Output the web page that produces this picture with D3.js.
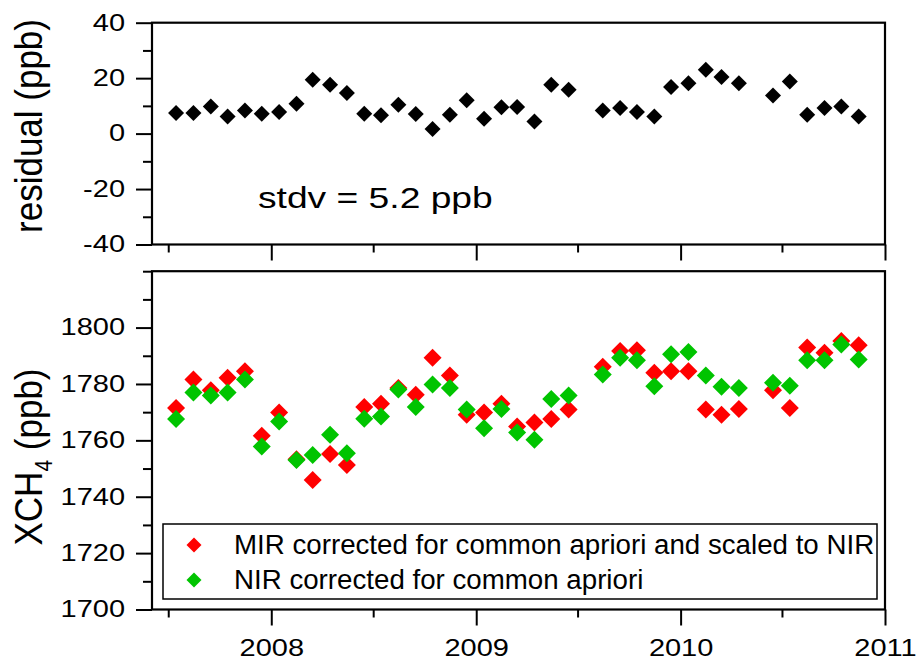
<!DOCTYPE html>
<html>
<head>
<meta charset="utf-8">
<script src="https://cdn.jsdelivr.net/npm/d3@7"></script>
<style>
  body { margin: 0; background: #fff; }
  svg { display: block; font-family: "Liberation Sans", Arial, sans-serif; }
</style>
</head>
<body>
<div id="chart"></div>
<script>
// monthly means, Jul 2007 .. Nov 2010 (null = no data)
const months = [
  '2007-07','2007-08','2007-09','2007-10','2007-11','2007-12',
  '2008-01','2008-02','2008-03','2008-04','2008-05','2008-06',
  '2008-07','2008-08','2008-09','2008-10','2008-11','2008-12',
  '2009-01','2009-02','2009-03','2009-04','2009-05','2009-06',
  '2009-07','2009-08','2009-09','2009-10','2009-11','2009-12',
  '2010-01','2010-02','2010-03','2010-04','2010-05','2010-06',
  '2010-07','2010-08','2010-09','2010-10','2010-11'
];
const residual = [
  7.4, 7.4, 9.8, 6.2, 8.3, 7.2,
  7.8, 10.8, 19.4, 17.6, 14.6, 7.2,
  6.6, 10.4, 7.1, 1.7, 6.8, 12.0,
  5.4, 9.5, 9.6, 4.4, 17.6, 15.8,
  null, 8.3, 9.2, 7.8, 6.2, 16.8,
  18.2, 23.0, 20.4, 18.2, null, 13.7,
  18.8, 6.8, 9.2, 9.8, 6.2
];
const mir = [
  1771.5, 1781.6, 1777.8, 1782.2, 1784.5, 1761.6,
  1769.9, 1753.3, 1745.9, 1755.2, 1751.3, 1771.8,
  1773.0, 1778.6, 1776.2, 1789.3, 1783.0, 1769.1,
  1769.9, 1773.0, 1764.9, 1766.3, 1767.6, 1770.9,
  null, 1786.1, 1791.7, 1792.0, 1784.0, 1784.5,
  1784.5, 1770.9, 1769.1, 1771.1, null, 1777.8,
  1771.5, 1792.9, 1791.1, 1795.2, 1793.7
];
const nir = [
  1767.6, 1777.0, 1775.9, 1777.0, 1781.6, 1757.8,
  1766.7, 1753.0, 1754.8, 1762.0, 1755.4, 1767.7,
  1768.5, 1778.0, 1771.8, 1779.8, 1778.6, 1770.9,
  1764.3, 1771.1, 1762.8, 1760.2, 1774.7, 1775.9,
  null, 1783.4, 1789.3, 1788.4, 1779.2, 1790.5,
  1791.3, 1783.0, 1779.0, 1778.6, null, 1780.4,
  1779.4, 1788.4, 1788.4, 1794.0, 1788.7
];
const yearTicks = ['2008', '2009', '2010', '2011'];
const halfYearTicks = ['2007-07', '2008-07', '2009-07', '2010-07'];
const residualTicks = [-40, -20, 0, 20, 40];
const xchTicks = [1700, 1720, 1740, 1760, 1780, 1800];
const legendLabels = [
  'MIR corrected for common apriori and scaled to NIR',
  'NIR corrected for common apriori'
];
const stdvText = 'stdv = 5.2 ppb';

const red = '#ff0000', green = '#00c400';

const W = 917, H = 661;
const left = 152, right = 885;
const top1 = 22.7, bot1 = 244.5;
const top2 = 271.2, bot2 = 609.5;

const parseMonth = d3.timeParse('%Y-%m-%d');
const toDate = m => parseMonth(m.length === 4 ? m + '-01-01' : m.length === 7 ? m + '-15' : m);

const svg = d3.select('#chart').append('svg')
  .attr('width', W).attr('height', H);

const x = d3.scaleTime()
  .domain([new Date(2007, 5, 2), new Date(2011, 0, 1)])
  .range([left, right]);
const y1 = d3.scaleLinear().domain([-40, 40]).range([bot1, top1]);
const y2 = d3.scaleLinear().domain([1700, 1820]).range([bot2, top2]);

// stretch text horizontally (source fonts are wider than Arial)
function stretch(sel, k) {
  sel.each(function () {
    const w = this.getComputedTextLength();
    d3.select(this).attr('textLength', w * k).attr('lengthAdjust', 'spacingAndGlyphs');
  });
}

function styleAxis(g) {
  g.select('.domain').remove();
  g.selectAll('line').attr('stroke', '#000').attr('stroke-width', 2);
}

function diamond(r) {
  return `M0,${-r}L${r},0L0,${r}L${-r},0Z`;
}

// ---------- y axes ----------
function yAxis(scale, ticks, step) {
  const [lo, hi] = scale.domain();
  const minor = d3.range(lo, hi + 0.001, step).filter(v => !ticks.includes(v));
  svg.append('g').attr('transform', `translate(${left},0)`)
    .call(d3.axisLeft(scale).tickValues(minor).tickSize(9).tickFormat(''))
    .call(styleAxis);
  const g = svg.append('g').attr('transform', `translate(${left},0)`)
    .call(d3.axisLeft(scale).tickValues(ticks).tickSize(16).tickPadding(11)
      .tickFormat(d => String(d)))
    .call(styleAxis);
  g.selectAll('text').attr('font-size', 23).attr('fill', '#000')
    .attr('font-family', '"Liberation Sans", Arial, sans-serif')
    .call(stretch, 1.26);
}
yAxis(y1, residualTicks, 10);
yAxis(y2, xchTicks, 10);

// ---------- x axes ----------
function xAxis(yPos, labels) {
  svg.append('g').attr('transform', `translate(0,${yPos})`)
    .call(d3.axisBottom(x).tickValues(halfYearTicks.map(m => parseMonth(m + '-01'))).tickSize(8).tickFormat(''))
    .call(styleAxis);
  const g = svg.append('g').attr('transform', `translate(0,${yPos})`)
    .call(d3.axisBottom(x).tickValues(yearTicks.map(toDate)).tickSize(16).tickPadding(14)
      .tickFormat(labels ? d3.timeFormat('%Y') : ''))
    .call(styleAxis);
  g.selectAll('text').attr('font-size', 23).attr('fill', '#000')
    .attr('font-family', '"Liberation Sans", Arial, sans-serif')
    .call(stretch, 1.26);
}
xAxis(bot1, false);
xAxis(bot2, true);

// ---------- frames ----------
[[top1, bot1], [top2, bot2]].forEach(([t, b]) => {
  svg.append('rect')
    .attr('x', left).attr('y', t)
    .attr('width', right - left).attr('height', b - t)
    .attr('fill', 'none').attr('stroke', '#000').attr('stroke-width', 2.2);
});

// ---------- residual panel ----------
const resData = months.map((m, i) => ({ date: toDate(m), v: residual[i] })).filter(d => d.v != null);
svg.append('g').selectAll('path')
  .data(resData).enter()
  .append('path')
  .attr('d', diamond(8))
  .attr('fill', '#000')
  .attr('transform', d => `translate(${x(d.date)},${y1(d.v)})`);

svg.append('text')
  .attr('x', 258).attr('y', 208)
  .attr('font-size', 30)
  .text(stdvText)
  .call(stretch, 1.24);

// ---------- XCH4 panel ----------
function series(vals, color) {
  const data = months.map((m, i) => ({ date: toDate(m), v: vals[i] })).filter(d => d.v != null);
  svg.append('g').selectAll('path')
    .data(data).enter()
    .append('path')
    .attr('d', diamond(9))
    .attr('fill', color)
    .attr('transform', d => `translate(${x(d.date)},${y2(d.v)})`);
}
series(mir, red);
series(nir, green);

// legend
const lg = svg.append('g');
lg.append('rect')
  .attr('x', 163).attr('y', 524)
  .attr('width', 714).attr('height', 75)
  .attr('fill', '#fff').attr('stroke', '#000').attr('stroke-width', 1.5);
[red, green].forEach((c, i) => {
  lg.append('path')
    .attr('d', diamond(7.5))
    .attr('fill', c)
    .attr('transform', `translate(194,${545 + i * 35})`);
  lg.append('text')
    .attr('x', 234).attr('y', 554 + i * 34.5)
    .attr('font-size', 27.7)
    .text(legendLabels[i]);
});

// ---------- axis titles ----------
svg.append('text')
  .attr('transform', 'translate(42,126) scale(1.1,1) rotate(-90)')
  .attr('text-anchor', 'middle')
  .attr('font-size', 35)
  .text('residual (ppb)');

const t2 = svg.append('text')
  .attr('transform', 'translate(42,457) scale(1.1,1) rotate(-90)')
  .attr('text-anchor', 'middle')
  .attr('font-size', 35);
t2.append('tspan').text('XCH');
t2.append('tspan').attr('font-size', 21).attr('dy', 9).text('4');
t2.append('tspan').attr('dy', -9).text(' (ppb)');
</script>
</body>
</html>
